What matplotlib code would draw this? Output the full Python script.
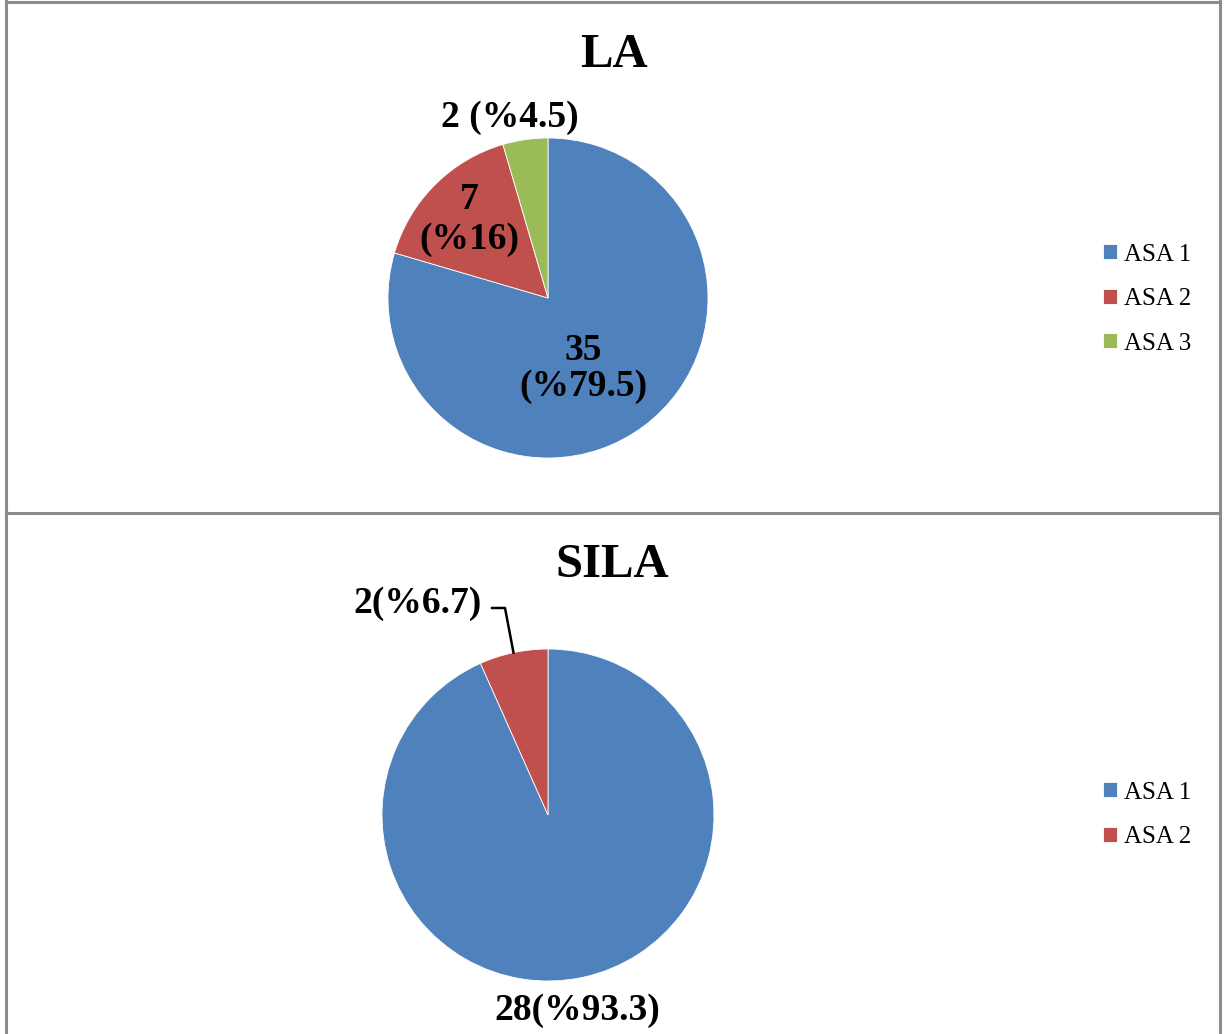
import matplotlib as mpl
mpl.use("Agg")
import matplotlib.pyplot as plt
import numpy as np
from matplotlib.lines import Line2D

plt.rcParams["font.family"] = ["Liberation Serif", "DejaVu Serif"]

# data
la_labels = ["ASA 1", "ASA 2", "ASA 3"]
la_counts = [35, 7, 2]
la_pct = ["79.5", "16", "4.5"]
sila_labels = ["ASA 1", "ASA 2"]
sila_counts = [28, 2]
sila_pct = ["93.3", "6.7"]

COLORS = ["#4F81BD", "#C0504D", "#9BBB59"]
W, H = 1224, 1034

fig = plt.figure(figsize=(W / 100, H / 100), dpi=100)


def pie_axes(cx, cy, r):
    # axes in pixel coords, pie of radius 1 fills it
    return fig.add_axes([(cx - r) / W, 1 - (cy + r) / H, 2 * r / W, 2 * r / H])


def draw_pie(ax, counts):
    wedges, _ = ax.pie(counts, colors=COLORS[:len(counts)], startangle=90,
                       counterclock=False, radius=1,
                       wedgeprops=dict(edgecolor="white", linewidth=0.6))
    ax.set_xlim(-1, 1)
    ax.set_ylim(-1, 1)
    ax.set_aspect("equal")
    return wedges


lab_kw = dict(fontsize=27, fontweight="bold", ha="center", va="center",
              linespacing=1.05)
leg_kw = dict(loc="center left", frameon=False, fontsize=18,
              handlelength=0.55, handleheight=0.55, handletextpad=0.3,
              labelspacing=0.9, borderpad=0, borderaxespad=0)

# ---- LA ----
ax1 = pie_axes(548, 298, 160)
w1 = draw_pie(ax1, la_counts)
ax1.text(0.22, -0.44, f"{la_counts[0]}\n(%{la_pct[0]})", **lab_kw)
ax1.text(-0.49, 0.49, f"{la_counts[1]}\n(%{la_pct[1]})",
         **{**lab_kw, "linespacing": 1.2})
ax1.text(-0.24, 1.13, f"{la_counts[2]} (%{la_pct[2]})", **lab_kw)
fig.text(614 / W, 1 - 55 / H, "LA", fontsize=35, fontweight="bold",
         ha="center", va="center")
fig.legend(w1, la_labels, bbox_to_anchor=(1103 / W, 1 - 299 / H), **leg_kw)

# ---- SILA ----
ax2 = pie_axes(548, 815, 166)
w2 = draw_pie(ax2, sila_counts)
ax2.text(0.175, -1.175, f"{sila_counts[0]}(%{sila_pct[0]})", **lab_kw)
ax2.text(-0.40, 1.277, f"{sila_counts[1]}(%{sila_pct[1]})",
         **{**lab_kw, "ha": "right"})
# leader line to the small wedge
th = np.deg2rad((w2[1].theta1 + w2[1].theta2) / 2)
ex, ey = np.cos(th), np.sin(th)
ax2.plot([-0.337, -0.259, ex], [1.247, 1.247, ey], color="black", lw=1.8,
         clip_on=False)
fig.text(612 / W, 1 - 565 / H, "SILA", fontsize=35, fontweight="bold",
         ha="center", va="center")
fig.legend(w2, sila_labels, bbox_to_anchor=(1103 / W, 1 - 815 / H), **leg_kw)

# panel borders
bc = "#8c8c8c"
for xs, ys in [([6, 6], [0, H]), ([1220, 1220], [0, H]),
               ([6, 1220], [2, 2]), ([6, 1220], [513, 513])]:
    fig.add_artist(Line2D([x / W for x in xs], [1 - y / H for y in ys],
                          color=bc, lw=2.2))

fig.savefig("out.png", dpi=100)
